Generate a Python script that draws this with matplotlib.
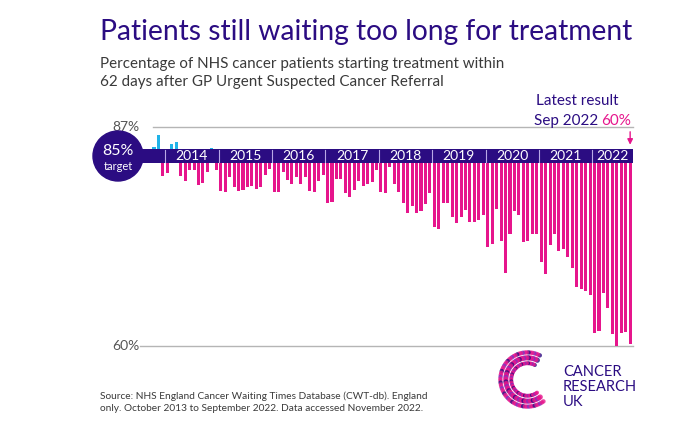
import matplotlib
matplotlib.use("Agg")
import matplotlib.pyplot as plt
from matplotlib.patches import Ellipse, Rectangle
import numpy as np

plt.rcParams['font.family'] = ['Lato', 'DejaVu Sans']

years = ['2014', '2015', '2016', '2017', '2018', '2019', '2020', '2021', '2022']
v2013 = [85.3, 86.9, 83.3]
v2014 = [83.7, 85.7, 85.9, 83.2, 82.6, 84.0, 84.0, 82.0, 82.3, 83.8, 85.2, 84.0]
v2015 = [81.2, 81.0, 83.1, 81.8, 81.2, 81.3, 81.8, 81.9, 81.4, 81.7, 83.4, 84.2]
v2016 = [81.0, 81.0, 83.8, 82.7, 82.1, 83.1, 82.2, 83.1, 81.2, 81.1, 82.6, 83.4]
v2017 = [79.6, 79.7, 82.8, 82.8, 80.9, 80.4, 81.3, 82.5, 81.9, 82.1, 82.4, 84.1]
v2018 = [81.0, 80.9, 84.4, 82.2, 81.0, 79.5, 78.2, 79.1, 78.2, 78.5, 79.4, 80.9]
v2019 = [76.3, 76.1, 79.6, 79.5, 77.6, 76.8, 77.7, 78.6, 77.0, 77.0, 77.3, 77.9]
v2020 = [73.6, 74.0, 78.7, 74.4, 70.1, 75.4, 78.5, 77.9, 74.3, 74.4, 75.4, 75.3]
v2021 = [71.5, 69.9, 73.9, 75.4, 73.0, 73.3, 72.2, 70.8, 68.1, 67.9, 67.6, 67.1]
v2022 = [61.9, 62.2, 67.4, 65.3, 61.8, 60.1, 61.9, 62.1, 60.4]
values = v2013 + v2014 + v2015 + v2016 + v2017 + v2018 + v2019 + v2020 + v2021 + v2022
target = 85

INDIGO = '#2b0c82'
PINK = '#e6158c'
BLUE = '#20b3e8'

W, H = 700, 437
fig = plt.figure(figsize=(7, 4.37), dpi=100)

x0px, dxpx = 154, 4.45
kpx = 7.36
band_top_px, band_bot_px = 149, 163
bandH = (band_bot_px - band_top_px) / kpx
ax_l, ax_r, ax_t, ax_b = 95, 645, 115, 352
ax = fig.add_axes([ax_l / W, 1 - ax_b / H, (ax_r - ax_l) / W, (ax_b - ax_t) / H])
ax.set_xlim((ax_l - x0px) / dxpx, (ax_r - x0px) / dxpx)
ax.set_ylim(-(ax_b - band_top_px) / kpx, (band_top_px - ax_t) / kpx)
ax.axis('off')

idx = np.arange(len(values))
vals = np.array(values)
pos = vals >= target
ax.bar(idx[pos], vals[pos] - target, bottom=0, width=0.68, color=BLUE, zorder=2)
ax.bar(idx[~pos], vals[~pos] - target, bottom=-bandH, width=0.68, color=PINK, zorder=2)

y87 = (band_top_px - 127) / kpx
y60 = -(346 - band_top_px) / kpx
xa, xb = -0.5, len(values) - 0.3
ax.plot([xa + 0.3, xb], [y87, y87], color='#b5b5b5', lw=1, zorder=1)
ax.plot([-3.2, xb], [y60, y60], color='#b5b5b5', lw=1, zorder=1)
ax.text(-3.2, y87, '87%', ha='right', va='center', fontsize=10, color='#555555')
ax.text(-3.2, y60, '60%', ha='right', va='center', fontsize=10, color='#555555')

ax.add_patch(Rectangle((-8, -bandH), xb + 8, bandH, color=INDIGO, zorder=3, lw=0))
for j, yr in enumerate(years):
    start = 3 + 12 * j - 0.5
    end = min(start + 12, len(values) - 0.5)
    ax.plot([start, start], [-bandH + 0.1, -0.1], color='#b9a9e6', lw=0.8, zorder=4)
    ax.text((start + end) / 2, -bandH / 2, yr, ha='center', va='center',
            color='white', fontsize=10, zorder=5)

cx = (118 - x0px) / dxpx
cy = -(156 - band_top_px) / kpx
ax.add_patch(Ellipse((cx, cy), 50 / dxpx, 50 / kpx, color=INDIGO, zorder=6, clip_on=False))
ax.text(cx, cy + 0.7, '85%', ha='center', va='center', color='white', fontsize=11.5, zorder=7)
ax.text(cx, cy - 1.4, 'target', ha='center', va='center', color='white', fontsize=8, zorder=7)

last = len(values) - 1
ax.annotate('', xy=(last, 0.2), xytext=(last, (band_top_px - 129) / kpx),
            arrowprops=dict(arrowstyle='-|>', color=PINK, lw=1, mutation_scale=8), zorder=8)

fig.text(618 / W, 1 - 101 / H, 'Latest result', ha='right', va='center', color=INDIGO, fontsize=11)
fig.text(598 / W, 1 - 121 / H, 'Sep 2022', ha='right', va='center', color=INDIGO, fontsize=11)
fig.text(601 / W, 1 - 121 / H, f'{int(values[-1])}%', ha='left', va='center', color=PINK, fontsize=11)

fig.text(100 / W, 1 - 32 / H, 'Patients still waiting too long for treatment', ha='left', va='center',
         color=INDIGO, fontsize=20.3)
fig.text(100 / W, 1 - 64 / H, 'Percentage of NHS cancer patients starting treatment within',
         ha='left', va='center', color='#3a3a3a', fontsize=10.9)
fig.text(100 / W, 1 - 82 / H, '62 days after GP Urgent Suspected Cancer Referral',
         ha='left', va='center', color='#3a3a3a', fontsize=10.9)
fig.text(100 / W, 1 - 402 / H,
         'Source: NHS England Cancer Waiting Times Database (CWT-db). England\n'
         'only. October 2013 to September 2022. Data accessed November 2022.',
         ha='left', va='center', color='#3a3a3a', fontsize=7.3, linespacing=1.4)

lax = fig.add_axes([495 / W, 1 - 412 / H, 65 / W, 65 / H])
lax.set_xlim(-1.2, 1.2); lax.set_ylim(-1.2, 1.2); lax.axis('off')
th = np.linspace(0.35 * np.pi, 1.7 * np.pi, 60)
for r, s in [(1.0, 10), (0.8, 14), (0.6, 8)]:
    cols = [PINK if k % 3 else ('#7b2fbf' if k % 2 else INDIGO) for k in range(len(th))]
    lax.scatter(r * np.cos(th), r * np.sin(th), s=s, c=cols, alpha=0.8, lw=0)
fig.text(563 / W, 1 - 387 / H, 'CANCER\nRESEARCH\nUK', ha='left', va='center',
         color=INDIGO, fontsize=10.5, linespacing=1.05)

fig.savefig('out.png', dpi=100)
